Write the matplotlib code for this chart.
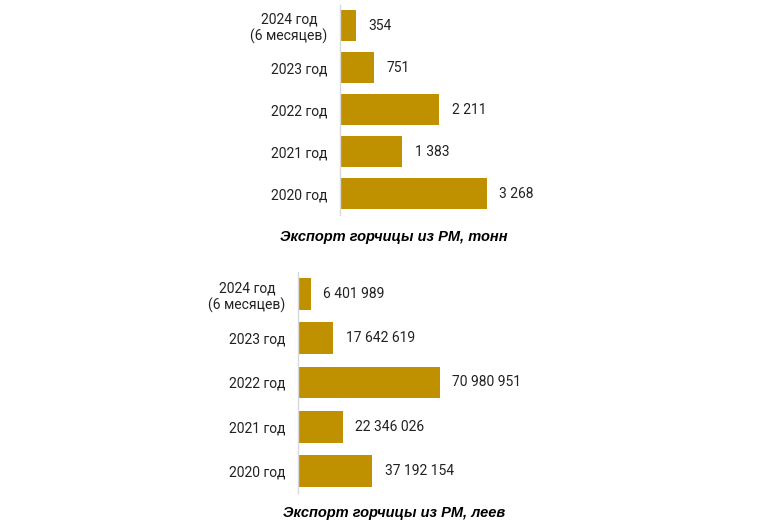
import matplotlib
matplotlib.use("Agg")
import matplotlib.pyplot as plt

categories = ["2024 год\n(6 месяцев)", "2023 год", "2022 год", "2021 год", "2020 год"]
tonnes = [354, 751, 2211, 1383, 3268]
lei = [6401989, 17642619, 70980951, 22346026, 37192154]
title_top = "Экспорт горчицы из РМ, тонн"
title_bottom = "Экспорт горчицы из РМ, леев"

BAR = "#BF9000"
plt.rcParams['font.family'] = ['Roboto', 'DejaVu Sans']

def fmt(v):
    return f"{v:,}".replace(",", " ")

W, H = 784, 526
fig = plt.figure(figsize=(W/100, H/100), dpi=100)

def draw(ax, values, width, xmax):
    y = list(range(len(categories)))
    cont = ax.barh(y, values, height=width, color=BAR)
    ax.bar_label(cont, labels=[fmt(v) for v in values], padding=9,
                 fontsize=10, color="#222222")
    ax.set_yticks(y)
    ax.set_yticklabels(categories, fontsize=10, color="#222222")
    for t in ax.get_yticklabels():
        t.set_multialignment('center')
    ax.set_ylim(len(categories) - 0.5, -0.5)
    ax.set_xlim(0, xmax)
    ax.tick_params(axis='y', length=0, pad=9)
    ax.set_xticks([])
    for s in ["top", "right", "bottom"]:
        ax.spines[s].set_visible(False)
    ax.spines["left"].set_color("#D9D9D9")
    ax.spines["left"].set_linewidth(1.0)
    ax.set_facecolor("none")

# top chart
ax1 = fig.add_axes([340/W, 1 - 214.5/H, 220/W, 210/H])
draw(ax1, tonnes, 0.74, 220/0.0449)
# bottom chart
ax2 = fig.add_axes([298/W, 1 - 493/H, 300/W, 221/H])
draw(ax2, lei, 0.72, 300/(142/70980951))

fig.text(394/W, 1 - 237/H, title_top, ha='center', va='center',
         fontsize=10.5, fontweight='bold', fontstyle='italic',
         family=['Liberation Sans', 'DejaVu Sans'])
fig.text(394/W, 1 - 513/H, title_bottom, ha='center', va='center',
         fontsize=10.5, fontweight='bold', fontstyle='italic',
         family=['Liberation Sans', 'DejaVu Sans'])

fig.savefig("out.png", dpi=100, facecolor="white")
